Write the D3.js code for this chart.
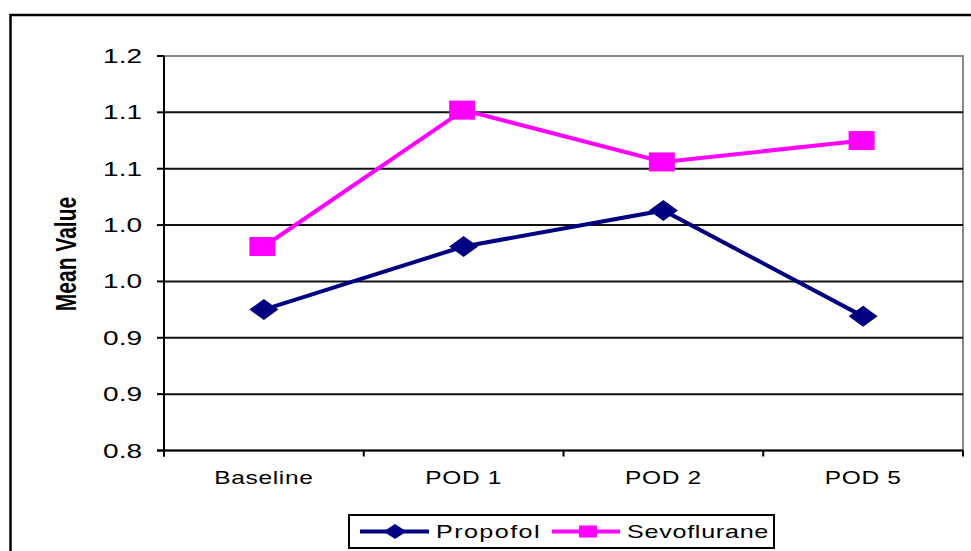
<!DOCTYPE html>
<html><head><meta charset="utf-8">
<script src="https://cdn.jsdelivr.net/npm/d3@7"></script>
<style>
html,body{margin:0;padding:0;background:#fff;overflow:hidden;}
text{font-family:"Liberation Sans",Arial,sans-serif;fill:#000;}
</style></head>
<body>
<svg id="chart" width="971" height="551"></svg>
<script>
const categories = ["Baseline", "POD 1", "POD 2", "POD 5"];
const propofol = [0.925, 0.981, 1.013, 0.919];
const sevoflurane = [0.981, 1.102, 1.056, 1.075];
const yTickValues = [0.80, 0.85, 0.90, 0.95, 1.00, 1.05, 1.10, 1.15];
const yTickLabels = ["0.8", "0.9", "0.9", "1.0", "1.0", "1.1", "1.1", "1.2"];
const seriesNames = ["Propofol", "Sevoflurane"];
const yTitle = "Mean Value";

(function () {
const SX = 1.4; // horizontal stretch of text glyphs
const svg = d3.select("#chart");
const pLeft = 164, pRight = 963, pTop = 56, pBottom = 450.5;

const x = d3.scaleBand().domain(categories).range([pLeft, pRight]).padding(0);
const y = d3.scaleLinear().domain([0.80, 1.15]).range([pBottom, pTop]);
const cx = c => x(c) + x.bandwidth() / 2;

// outer chart border
svg.append("rect").attr("x", 10.5).attr("y", 15).attr("width", 1000).attr("height", 600)
  .attr("fill", "none").attr("stroke", "#000").attr("stroke-width", 2.5);

// plot area border (gray)
svg.append("rect").attr("x", pLeft).attr("y", pTop).attr("width", pRight - pLeft).attr("height", pBottom - pTop)
  .attr("fill", "none").attr("stroke", "#888").attr("stroke-width", 2);

// gridlines
svg.append("g").selectAll("line").data(yTickValues.slice(1, -1)).join("line")
  .attr("x1", pLeft).attr("x2", pRight).attr("y1", d => y(d)).attr("y2", d => y(d))
  .attr("stroke", "#111").attr("stroke-width", 2);

// y axis
svg.append("line").attr("x1", pLeft).attr("x2", pLeft).attr("y1", pTop).attr("y2", pBottom + 6)
  .attr("stroke", "#000").attr("stroke-width", 2);
svg.append("g").selectAll("line").data(yTickValues).join("line")
  .attr("x1", pLeft - 7).attr("x2", pLeft).attr("y1", d => y(d)).attr("y2", d => y(d))
  .attr("stroke", "#000").attr("stroke-width", 2);
svg.append("g").selectAll("text").data(yTickValues).join("text")
  .attr("transform", d => `translate(142,${y(d) + 7}) scale(${SX},1)`)
  .attr("text-anchor", "end").style("font-size", "20px")
  .text((d, i) => yTickLabels[i]);

// x axis
svg.append("line").attr("x1", pLeft - 7).attr("x2", pRight).attr("y1", pBottom).attr("y2", pBottom)
  .attr("stroke", "#000").attr("stroke-width", 2);
const edges = categories.map(c => x(c)).concat([x(categories[categories.length - 1]) + x.bandwidth()]);
svg.append("g").selectAll("line").data(edges).join("line")
  .attr("x1", d => d).attr("x2", d => d).attr("y1", pBottom).attr("y2", pBottom + 6)
  .attr("stroke", "#000").attr("stroke-width", 2);
svg.append("g").selectAll("text").data(categories).join("text")
  .attr("transform", d => `translate(${cx(d)},484) scale(${SX},1)`)
  .attr("text-anchor", "middle").style("font-size", "17.5px").style("letter-spacing", "0.5px")
  .text(d => d);

// y title
svg.append("text")
  .attr("transform", `translate(76,254) scale(${SX},1) rotate(-90)`)
  .attr("text-anchor", "middle").style("font-size", "21px").style("font-weight", "bold")
  .text(yTitle);

// series
const line = d3.line().x((d, i) => cx(categories[i])).y(d => y(d));
svg.append("path").datum(propofol).attr("d", line).attr("fill", "none")
  .attr("stroke", "#000080").attr("stroke-width", 4);
svg.append("path").datum(sevoflurane).attr("d", line).attr("fill", "none")
  .attr("stroke", "#FF00FF").attr("stroke-width", 4);

const diamond = (w, h) => `M0,${-h/2}L${w/2},0L0,${h/2}L${-w/2},0Z`;
svg.append("g").selectAll("path").data(propofol).join("path")
  .attr("transform", (d, i) => `translate(${cx(categories[i])},${y(d)})`)
  .attr("d", diamond(29, 21)).attr("fill", "#000080");
svg.append("g").selectAll("rect").data(sevoflurane).join("rect")
  .attr("x", (d, i) => cx(categories[i]) - 14.5).attr("y", d => y(d) - 9.5)
  .attr("width", 26).attr("height", 19).attr("fill", "#FF00FF");

// legend
const lg = svg.append("g");
lg.append("rect").attr("x", 349).attr("y", 515).attr("width", 425).attr("height", 33)
  .attr("fill", "#fff").attr("stroke", "#000").attr("stroke-width", 2);
const ly = 531.5;
lg.append("line").attr("x1", 360).attr("x2", 429).attr("y1", ly).attr("y2", ly)
  .attr("stroke", "#000080").attr("stroke-width", 4);
lg.append("path").attr("transform", `translate(395,${ly})`).attr("d", diamond(23, 15)).attr("fill", "#000080");
lg.append("text").attr("transform", `translate(436,${ly + 6.5}) scale(${SX},1)`)
  .style("font-size", "18px").style("letter-spacing", "1px").text(seriesNames[0]);
lg.append("line").attr("x1", 552).attr("x2", 620).attr("y1", ly).attr("y2", ly)
  .attr("stroke", "#FF00FF").attr("stroke-width", 4);
lg.append("rect").attr("x", 579).attr("y", ly - 6).attr("width", 18).attr("height", 12).attr("fill", "#FF00FF");
lg.append("text").attr("transform", `translate(627,${ly + 6.5}) scale(${SX},1)`)
  .style("font-size", "18px").style("letter-spacing", "0.5px").text(seriesNames[1]);
})();
</script>
</body></html>
